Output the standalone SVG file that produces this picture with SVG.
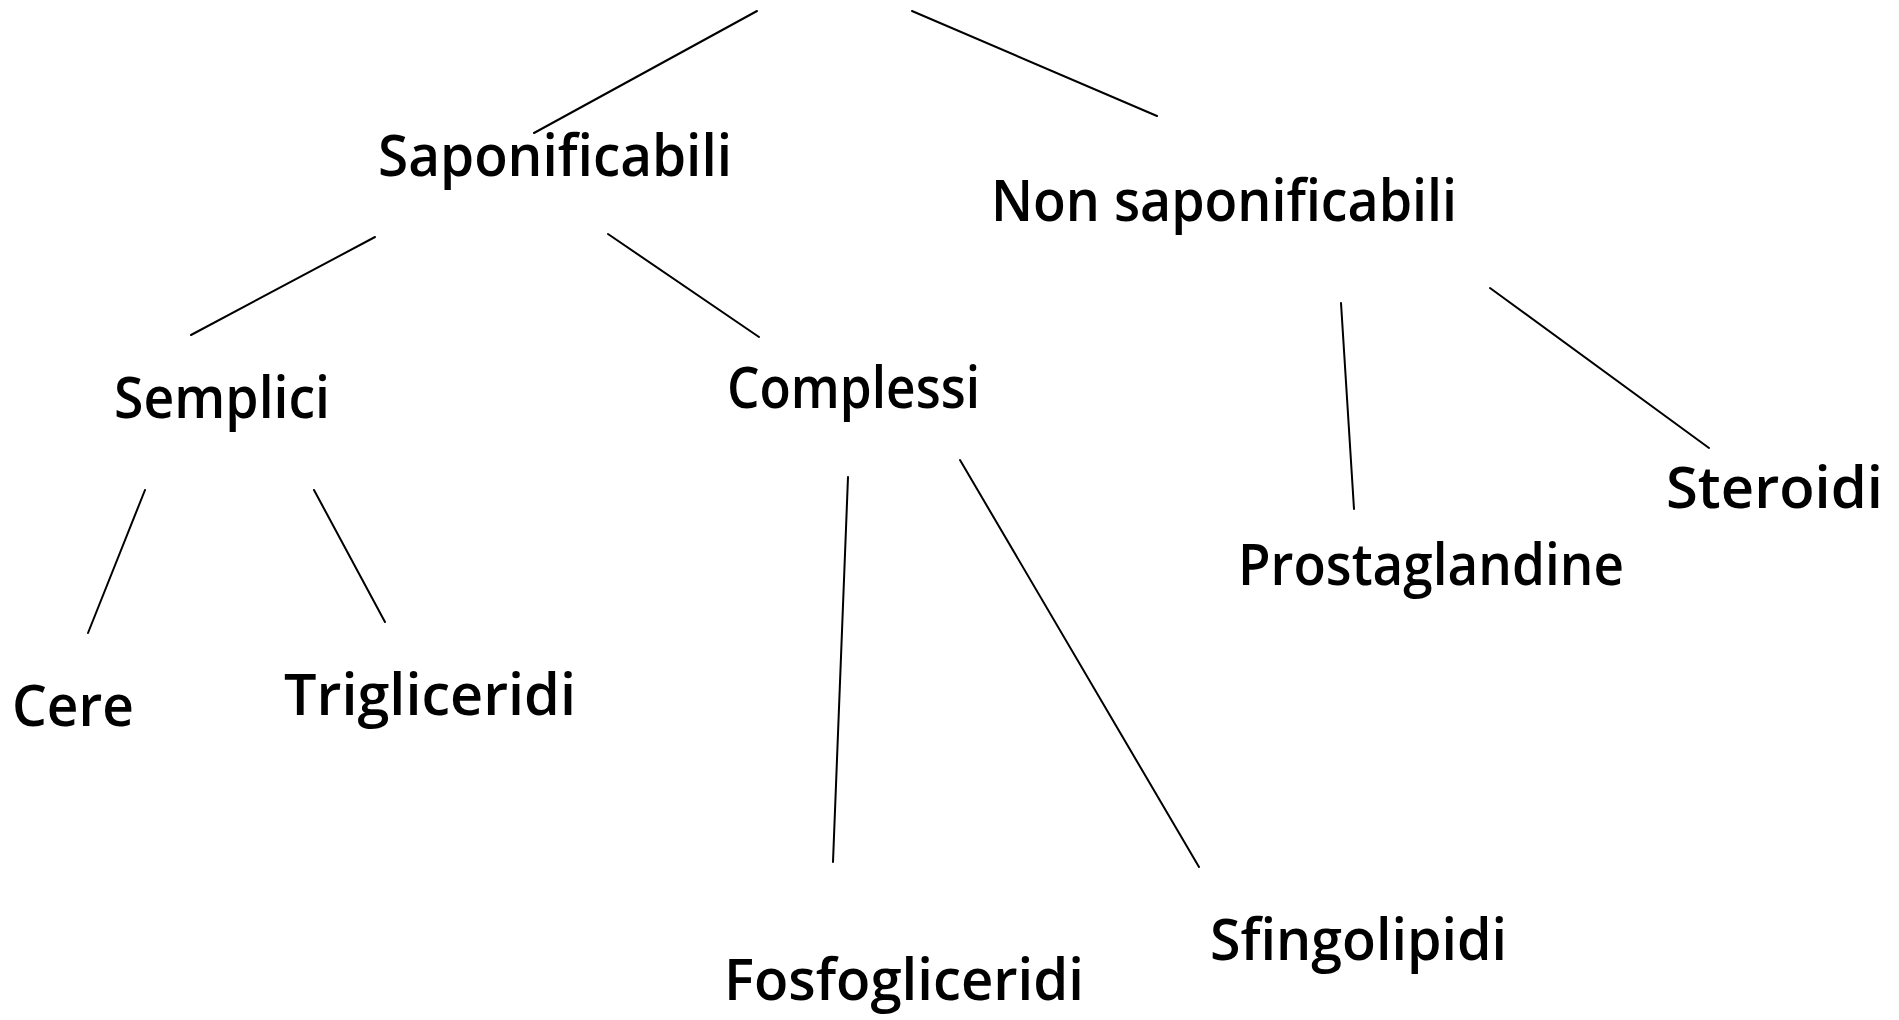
<svg xmlns="http://www.w3.org/2000/svg" width="1899" height="1020" viewBox="0 0 1899 1020">
<style>
  text { font-family: "Open Sans", "DejaVu Sans", sans-serif; font-size: 57px; font-weight: 600; fill: #000; }
  .edge { stroke: #000; stroke-width: 2; fill: none; stroke-linecap: round; }
</style>
<rect x="0" y="0" width="1899" height="1020" fill="#fff"/>
<g id="connectors">
  <line class="edge" x1="757" y1="11" x2="534" y2="133"/>
  <line class="edge" x1="912" y1="11" x2="1157" y2="116"/>
  <line class="edge" x1="375" y1="237" x2="191" y2="335"/>
  <line class="edge" x1="608" y1="234" x2="759" y2="337"/>
  <line class="edge" x1="145" y1="490" x2="88" y2="633"/>
  <line class="edge" x1="314" y1="490" x2="385" y2="622"/>
  <line class="edge" x1="848" y1="477" x2="833" y2="862"/>
  <line class="edge" x1="960" y1="460" x2="1199" y2="867"/>
  <line class="edge" x1="1341" y1="303" x2="1354" y2="509"/>
  <line class="edge" x1="1490" y1="288" x2="1709" y2="448"/>
</g>
<g id="saponificabili"><text x="378" y="176" textLength="354" lengthAdjust="spacingAndGlyphs">Saponificabili</text></g>
<g id="non-saponificabili"><text x="991" y="221" textLength="466" lengthAdjust="spacingAndGlyphs">Non saponificabili</text></g>
<g id="semplici"><text x="114" y="418" textLength="216" lengthAdjust="spacingAndGlyphs">Semplici</text></g>
<g id="complessi"><text x="727" y="408" textLength="253" lengthAdjust="spacingAndGlyphs">Complessi</text></g>
<g id="cere"><text x="12" y="726" textLength="122" lengthAdjust="spacingAndGlyphs">Cere</text></g>
<g id="trigliceridi"><text x="284" y="715" textLength="292" lengthAdjust="spacingAndGlyphs">Trigliceridi</text></g>
<g id="fosfogliceridi"><text x="724" y="1000" textLength="360" lengthAdjust="spacingAndGlyphs">Fosfogliceridi</text></g>
<g id="sfingolipidi"><text x="1210" y="960" textLength="297" lengthAdjust="spacingAndGlyphs">Sfingolipidi</text></g>
<g id="prostaglandine"><text x="1238" y="585" textLength="386" lengthAdjust="spacingAndGlyphs">Prostaglandine</text></g>
<g id="steroidi"><text x="1666" y="508" textLength="217" lengthAdjust="spacingAndGlyphs">Steroidi</text></g>
</svg>
